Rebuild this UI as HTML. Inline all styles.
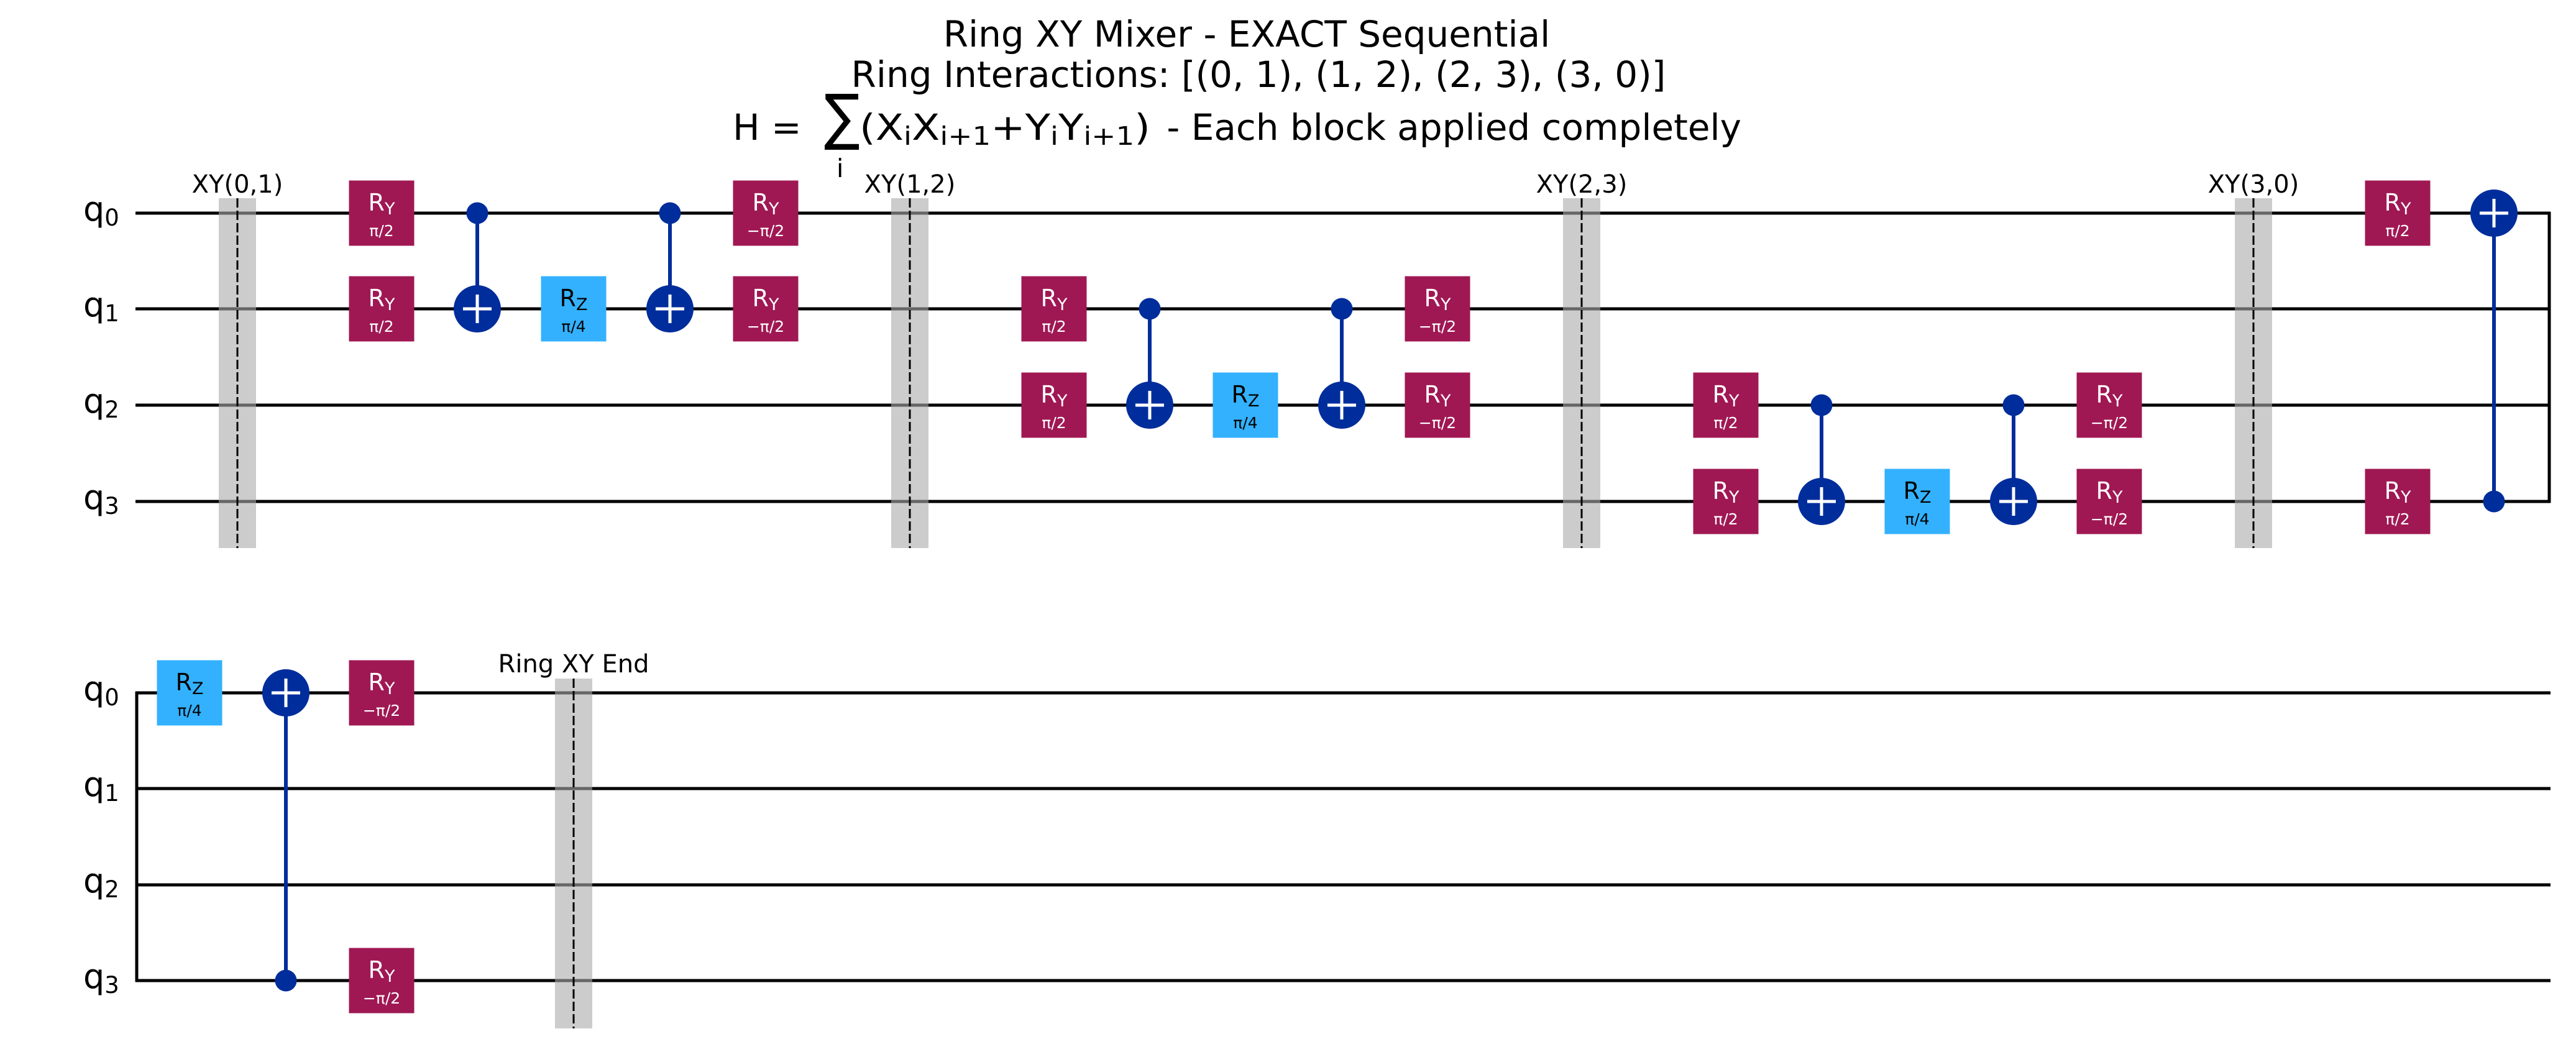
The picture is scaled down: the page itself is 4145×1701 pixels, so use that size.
<!DOCTYPE html>
<html><head><meta charset="utf-8"><style>
html,body{margin:0;padding:0;background:#fff;}
svg{display:block;}
text{font-family:"DejaVu Sans","Liberation Sans",sans-serif;}
.w{stroke:#000;stroke-width:5;fill:none;}
.ry{fill:#9f1853;}
.rz{fill:#33b1ff;}
.gw{fill:#fff;font-size:38px;text-anchor:middle;}
.gb{fill:#000;font-size:38px;text-anchor:middle;}
.pw{fill:#fff;font-size:25px;text-anchor:middle;}
.pb{fill:#000;font-size:25px;text-anchor:middle;}
.sub{font-size:27px;}
.bar{fill:#aaaaaa;fill-opacity:0.6;}
.dash{stroke:#000;stroke-width:3;stroke-dasharray:15,5;}
.bl{font-size:40px;text-anchor:middle;fill:#000;}
.q{font-size:54px;fill:#000;}
.qs{font-size:37px;}
.cx{fill:#002d9c;}
.cl{stroke:#002d9c;stroke-width:6;}
.pl{stroke:#fff;stroke-width:5;}
.t{font-size:58px;text-anchor:middle;fill:#000;}
</style></head><body>
<svg width="4145" height="1701" viewBox="0 0 4145 1701" xmlns="http://www.w3.org/2000/svg">
<!-- Title -->
<text class="t" x="2006" y="75">Ring XY Mixer - EXACT Sequential</text>
<text class="t" x="2025" y="140">Ring Interactions: [(0, 1), (1, 2), (2, 3), (3, 0)]</text>
<text x="1179" y="225" font-size="58">H =</text>
<text font-size="76" transform="translate(1326,222) scale(1.13,1.3)">∑</text>
<text x="1346" y="285" font-size="41">i</text>
<text x="1383" y="225" font-size="58" textLength="468" lengthAdjust="spacingAndGlyphs">(X<tspan font-size="41" dy="8">i</tspan><tspan dy="-8">X</tspan><tspan font-size="41" dy="8">i+1</tspan><tspan dy="-8">+Y</tspan><tspan font-size="41" dy="8">i</tspan><tspan dy="-8">Y</tspan><tspan font-size="41" dy="8">i+1</tspan><tspan dy="-8">)</tspan></text>
<text x="2802" y="225" font-size="58" text-anchor="end">- Each block applied completely</text>

<!-- Row 1 wires -->
<line class="w" x1="218" y1="343" x2="4104" y2="343"/>
<line class="w" x1="218" y1="497" x2="4104" y2="497"/>
<line class="w" x1="218" y1="652" x2="4104" y2="652"/>
<line class="w" x1="218" y1="807" x2="4104" y2="807"/>
<line class="w" x1="4102" y1="341" x2="4102" y2="809"/>
<!-- Row 2 wires -->
<line class="w" x1="218" y1="1115" x2="4104" y2="1115"/>
<line class="w" x1="218" y1="1269" x2="4104" y2="1269"/>
<line class="w" x1="218" y1="1424" x2="4104" y2="1424"/>
<line class="w" x1="218" y1="1578" x2="4104" y2="1578"/>
<line class="w" x1="220" y1="1113" x2="220" y2="1580"/>

<!-- q labels row1 -->
<text class="q" x="134" y="355">q<tspan class="qs" dy="8">0</tspan></text>
<text class="q" x="134" y="509">q<tspan class="qs" dy="8">1</tspan></text>
<text class="q" x="134" y="664">q<tspan class="qs" dy="8">2</tspan></text>
<text class="q" x="134" y="819">q<tspan class="qs" dy="8">3</tspan></text>
<!-- q labels row2 -->
<text class="q" x="134" y="1127">q<tspan class="qs" dy="8">0</tspan></text>
<text class="q" x="134" y="1281">q<tspan class="qs" dy="8">1</tspan></text>
<text class="q" x="134" y="1436">q<tspan class="qs" dy="8">2</tspan></text>
<text class="q" x="134" y="1590">q<tspan class="qs" dy="8">3</tspan></text>

<!-- Barriers row1 -->
<rect class="bar" x="352" y="319" width="60" height="563"/><line class="dash" x1="382" y1="319" x2="382" y2="882"/>
<text class="bl" x="382" y="310">XY(0,1)</text>
<rect class="bar" x="1434" y="319" width="60" height="563"/><line class="dash" x1="1464" y1="319" x2="1464" y2="882"/>
<text class="bl" x="1464" y="310">XY(1,2)</text>
<rect class="bar" x="2515" y="319" width="60" height="563"/><line class="dash" x1="2545" y1="319" x2="2545" y2="882"/>
<text class="bl" x="2545" y="310">XY(2,3)</text>
<rect class="bar" x="3596" y="319" width="60" height="563"/><line class="dash" x1="3626" y1="319" x2="3626" y2="882"/>
<text class="bl" x="3626" y="310">XY(3,0)</text>
<!-- Barrier row2 -->
<rect class="bar" x="893" y="1092" width="60" height="563"/><line class="dash" x1="923" y1="1092" x2="923" y2="1655"/>
<text class="bl" x="923" y="1082">Ring XY End</text>

<!-- Block 0 (q0,q1) -->
<rect class="ry" x="561.5" y="290.5" width="105" height="105"/><text class="gw" x="614" y="339">R<tspan class="sub" dy="6">Y</tspan></text><text class="pw" x="614" y="380">π/2</text>
<rect class="ry" x="561.5" y="444.5" width="105" height="105"/><text class="gw" x="614" y="493">R<tspan class="sub" dy="6">Y</tspan></text><text class="pw" x="614" y="534">π/2</text>
<line class="cl" x1="768" y1="343" x2="768" y2="497"/><circle class="cx" cx="768" cy="343" r="17.5"/><circle class="cx" cx="768" cy="497" r="38"/><line class="pl" x1="745" y1="497" x2="791" y2="497"/><line class="pl" x1="768" y1="474" x2="768" y2="520"/>
<rect class="rz" x="870.5" y="444.5" width="105" height="105"/><text class="gb" x="923" y="493">R<tspan class="sub" dy="6">Z</tspan></text><text class="pb" x="923" y="534">π/4</text>
<line class="cl" x1="1078" y1="343" x2="1078" y2="497"/><circle class="cx" cx="1078" cy="343" r="17.5"/><circle class="cx" cx="1078" cy="497" r="38"/><line class="pl" x1="1055" y1="497" x2="1101" y2="497"/><line class="pl" x1="1078" y1="474" x2="1078" y2="520"/>
<rect class="ry" x="1179.5" y="290.5" width="105" height="105"/><text class="gw" x="1232" y="339">R<tspan class="sub" dy="6">Y</tspan></text><text class="pw" x="1232" y="380">−π/2</text>
<rect class="ry" x="1179.5" y="444.5" width="105" height="105"/><text class="gw" x="1232" y="493">R<tspan class="sub" dy="6">Y</tspan></text><text class="pw" x="1232" y="534">−π/2</text>

<!-- Block 1 (q1,q2) -->
<rect class="ry" x="1643.5" y="444.5" width="105" height="105"/><text class="gw" x="1696" y="493">R<tspan class="sub" dy="6">Y</tspan></text><text class="pw" x="1696" y="534">π/2</text>
<rect class="ry" x="1643.5" y="599.5" width="105" height="105"/><text class="gw" x="1696" y="648">R<tspan class="sub" dy="6">Y</tspan></text><text class="pw" x="1696" y="689">π/2</text>
<line class="cl" x1="1850" y1="497" x2="1850" y2="652"/><circle class="cx" cx="1850" cy="497" r="17.5"/><circle class="cx" cx="1850" cy="652" r="38"/><line class="pl" x1="1827" y1="652" x2="1873" y2="652"/><line class="pl" x1="1850" y1="629" x2="1850" y2="675"/>
<rect class="rz" x="1951.5" y="599.5" width="105" height="105"/><text class="gb" x="2004" y="648">R<tspan class="sub" dy="6">Z</tspan></text><text class="pb" x="2004" y="689">π/4</text>
<line class="cl" x1="2159" y1="497" x2="2159" y2="652"/><circle class="cx" cx="2159" cy="497" r="17.5"/><circle class="cx" cx="2159" cy="652" r="38"/><line class="pl" x1="2136" y1="652" x2="2182" y2="652"/><line class="pl" x1="2159" y1="629" x2="2159" y2="675"/>
<rect class="ry" x="2260.5" y="444.5" width="105" height="105"/><text class="gw" x="2313" y="493">R<tspan class="sub" dy="6">Y</tspan></text><text class="pw" x="2313" y="534">−π/2</text>
<rect class="ry" x="2260.5" y="599.5" width="105" height="105"/><text class="gw" x="2313" y="648">R<tspan class="sub" dy="6">Y</tspan></text><text class="pw" x="2313" y="689">−π/2</text>

<!-- Block 2 (q2,q3) -->
<rect class="ry" x="2724.5" y="599.5" width="105" height="105"/><text class="gw" x="2777" y="648">R<tspan class="sub" dy="6">Y</tspan></text><text class="pw" x="2777" y="689">π/2</text>
<rect class="ry" x="2724.5" y="754.5" width="105" height="105"/><text class="gw" x="2777" y="803">R<tspan class="sub" dy="6">Y</tspan></text><text class="pw" x="2777" y="844">π/2</text>
<line class="cl" x1="2931" y1="652" x2="2931" y2="807"/><circle class="cx" cx="2931" cy="652" r="17.5"/><circle class="cx" cx="2931" cy="807" r="38"/><line class="pl" x1="2908" y1="807" x2="2954" y2="807"/><line class="pl" x1="2931" y1="784" x2="2931" y2="830"/>
<rect class="rz" x="3032.5" y="754.5" width="105" height="105"/><text class="gb" x="3085" y="803">R<tspan class="sub" dy="6">Z</tspan></text><text class="pb" x="3085" y="844">π/4</text>
<line class="cl" x1="3240" y1="652" x2="3240" y2="807"/><circle class="cx" cx="3240" cy="652" r="17.5"/><circle class="cx" cx="3240" cy="807" r="38"/><line class="pl" x1="3217" y1="807" x2="3263" y2="807"/><line class="pl" x1="3240" y1="784" x2="3240" y2="830"/>
<rect class="ry" x="3341.5" y="599.5" width="105" height="105"/><text class="gw" x="3394" y="648">R<tspan class="sub" dy="6">Y</tspan></text><text class="pw" x="3394" y="689">−π/2</text>
<rect class="ry" x="3341.5" y="754.5" width="105" height="105"/><text class="gw" x="3394" y="803">R<tspan class="sub" dy="6">Y</tspan></text><text class="pw" x="3394" y="844">−π/2</text>

<!-- Block 3 (q3,q0) row1 -->
<rect class="ry" x="3805.5" y="290.5" width="105" height="105"/><text class="gw" x="3858" y="339">R<tspan class="sub" dy="6">Y</tspan></text><text class="pw" x="3858" y="380">π/2</text>
<rect class="ry" x="3805.5" y="754.5" width="105" height="105"/><text class="gw" x="3858" y="803">R<tspan class="sub" dy="6">Y</tspan></text><text class="pw" x="3858" y="844">π/2</text>
<line class="cl" x1="4013" y1="343" x2="4013" y2="807"/><circle class="cx" cx="4013" cy="807" r="17.5"/><circle class="cx" cx="4013" cy="343" r="38"/><line class="pl" x1="3990" y1="343" x2="4036" y2="343"/><line class="pl" x1="4013" y1="320" x2="4013" y2="366"/>

<!-- Row 2 gates -->
<rect class="rz" x="252.5" y="1062.5" width="105" height="105"/><text class="gb" x="305" y="1111">R<tspan class="sub" dy="6">Z</tspan></text><text class="pb" x="305" y="1152">π/4</text>
<line class="cl" x1="460" y1="1115" x2="460" y2="1578"/><circle class="cx" cx="460" cy="1578" r="17.5"/><circle class="cx" cx="460" cy="1115" r="38"/><line class="pl" x1="437" y1="1115" x2="483" y2="1115"/><line class="pl" x1="460" y1="1092" x2="460" y2="1138"/>
<rect class="ry" x="561.5" y="1062.5" width="105" height="105"/><text class="gw" x="614" y="1111">R<tspan class="sub" dy="6">Y</tspan></text><text class="pw" x="614" y="1152">−π/2</text>
<rect class="ry" x="561.5" y="1525.5" width="105" height="105"/><text class="gw" x="614" y="1574">R<tspan class="sub" dy="6">Y</tspan></text><text class="pw" x="614" y="1615">−π/2</text>
</svg>
</body></html>
